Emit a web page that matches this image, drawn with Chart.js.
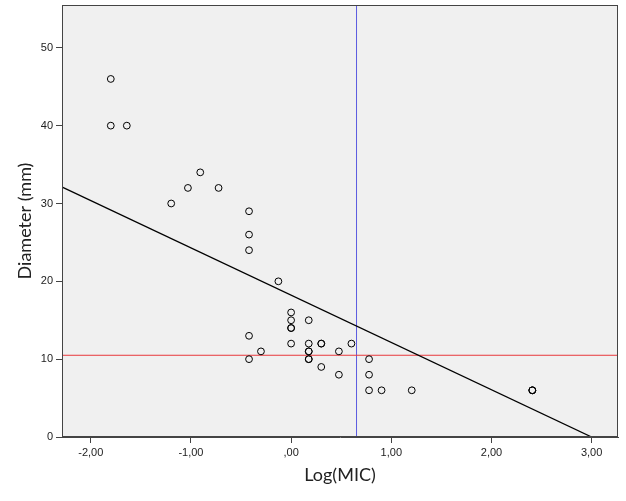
<!DOCTYPE html>
<html>
<head>
<meta charset="utf-8">
<script src="https://cdn.jsdelivr.net/npm/chart.js@4/dist/chart.umd.min.js"></script>
<style>
  html, body { margin: 0; padding: 0; background: #ffffff; }
  #wrap { width: 626px; height: 501px; }
</style>
</head>
<body>
<div id="wrap"><canvas id="c" width="626" height="501"></canvas></div>
<script>
// ---- data ----
const logMIC = [-1.80, -1.80, -1.64, -0.907, -1.03, -0.724, -1.197, -0.42, -0.42, -0.42,
                -0.127, 0.0, 0.0, 0.0, 0.0, 0.176, -0.42, 0.0, 0.176, 0.301,
                0.301, 0.602, -0.301, 0.176, 0.176, 0.477, -0.42, 0.176, 0.176, 0.778,
                0.301, 0.477, 0.778, 0.778, 0.903, 1.204, 2.408, 2.408, 2.408];
const diameter = [46, 40, 40, 34, 32, 32, 30, 29, 26, 24,
                  20, 16, 15, 14, 14, 15, 13, 12, 12, 12,
                  12, 12, 11, 11, 11, 11, 10, 10, 10, 10,
                  9, 8, 8, 6, 6, 6, 6, 6, 6];
const fitX = [-2.3, 3.0];
const fitY = [32.2, 0];
const cutoffMIC = 0.653;       // vertical reference line (Log MIC)
const cutoffDiameter = 10.5;   // horizontal reference line (mm)
const xTicks = [-2, -1, 0, 1, 2, 3];
const xTickLabels = ['-2,00', '-1,00', ',00', '1,00', '2,00', '3,00'];
const yTicks = [0, 10, 20, 30, 40, 50];
const xRange = [-2.287, 3.263];
const yRange = [0, 55.5];

const points = logMIC.map((x, i) => ({ x: x, y: diameter[i] }));
const fitLine = fitX.map((x, i) => ({ x: x, y: fitY[i] }));

const frame = {
  id: 'frame',
  beforeDatasetsDraw(chart) {
    const { ctx, chartArea: a } = chart;
    ctx.save();
    ctx.fillStyle = '#f0f0f0';
    ctx.fillRect(a.left, a.top, a.right - a.left, a.bottom - a.top);
    ctx.restore();
  },
  afterDraw(chart) {
    const { ctx, chartArea: a } = chart;
    ctx.save();
    ctx.strokeStyle = '#444444';
    ctx.lineWidth = 1;
    ctx.strokeRect(Math.round(a.left) + 0.5, Math.round(a.top) + 0.5,
                   Math.round(a.right - a.left) - 1, Math.round(a.bottom - a.top) - 1);
    ctx.restore();
  }
};

new Chart(document.getElementById('c'), {
  type: 'scatter',
  data: {
    datasets: [
      {
        type: 'line', data: [{ x: xRange[0], y: cutoffDiameter }, { x: xRange[1], y: cutoffDiameter }],
        borderColor: '#e8383c', borderWidth: 1, pointRadius: 0, clip: 0, order: 3
      },
      {
        type: 'line', data: [{ x: cutoffMIC, y: yRange[0] }, { x: cutoffMIC, y: yRange[1] }],
        borderColor: '#5c5ce0', borderWidth: 1, pointRadius: 0, clip: 0, order: 3
      },
      {
        type: 'line', data: fitLine,
        borderColor: '#000000', borderWidth: 1.3, pointRadius: 0, clip: 0, order: 2
      },
      {
        data: points, pointRadius: 3.4, pointBorderWidth: 1,
        borderColor: '#000000', backgroundColor: 'rgba(0,0,0,0)', order: 1
      }
    ]
  },
  options: {
    responsive: false,
    animation: false,
    events: [],
    layout: { padding: { top: 5, right: 8, left: 0, bottom: 0 } },
    plugins: { legend: { display: false }, tooltip: { enabled: false } },
    scales: {
      x: {
        type: 'linear', min: xRange[0], max: xRange[1],
        afterFit(s) { s.height = 64; s.paddingLeft = 0; s.paddingRight = 0; },
        afterBuildTicks(s) { s.ticks = xTicks.map(v => ({ value: v })); },
        ticks: {
          includeBounds: false, padding: 3, color: '#222222',
          font: { family: 'Liberation Sans, Arial', size: 11 },
          callback(v) { const i = xTicks.indexOf(v); return i >= 0 ? xTickLabels[i] : ''; }
        },
        grid: { drawOnChartArea: false, drawTicks: true, tickLength: 6, color: '#444444' },
        border: { display: true, color: '#444444' },
        title: {
          display: true, text: 'Log(MIC)', color: '#222222',
          font: { family: 'Lato, Open Sans', size: 18 }, padding: { top: 0, bottom: 15 }
        }
      },
      y: {
        type: 'linear', min: yRange[0], max: yRange[1],
        afterFit(s) { s.width = 62; s.paddingTop = 0; s.paddingBottom = 0; },
        afterBuildTicks(s) { s.ticks = yTicks.map(v => ({ value: v })); },
        ticks: {
          includeBounds: false, padding: 3, color: '#222222',
          font: { family: 'Liberation Sans, Arial', size: 11 }
        },
        grid: { drawOnChartArea: false, drawTicks: true, tickLength: 6, color: '#444444' },
        border: { display: true, color: '#444444' },
        title: {
          display: true, text: 'Diameter (mm)', color: '#222222',
          font: { family: 'Lato, Open Sans', size: 18 }, padding: { top: 14, bottom: 0 }
        }
      }
    }
  },
  plugins: [frame]
});
</script>
</body>
</html>
